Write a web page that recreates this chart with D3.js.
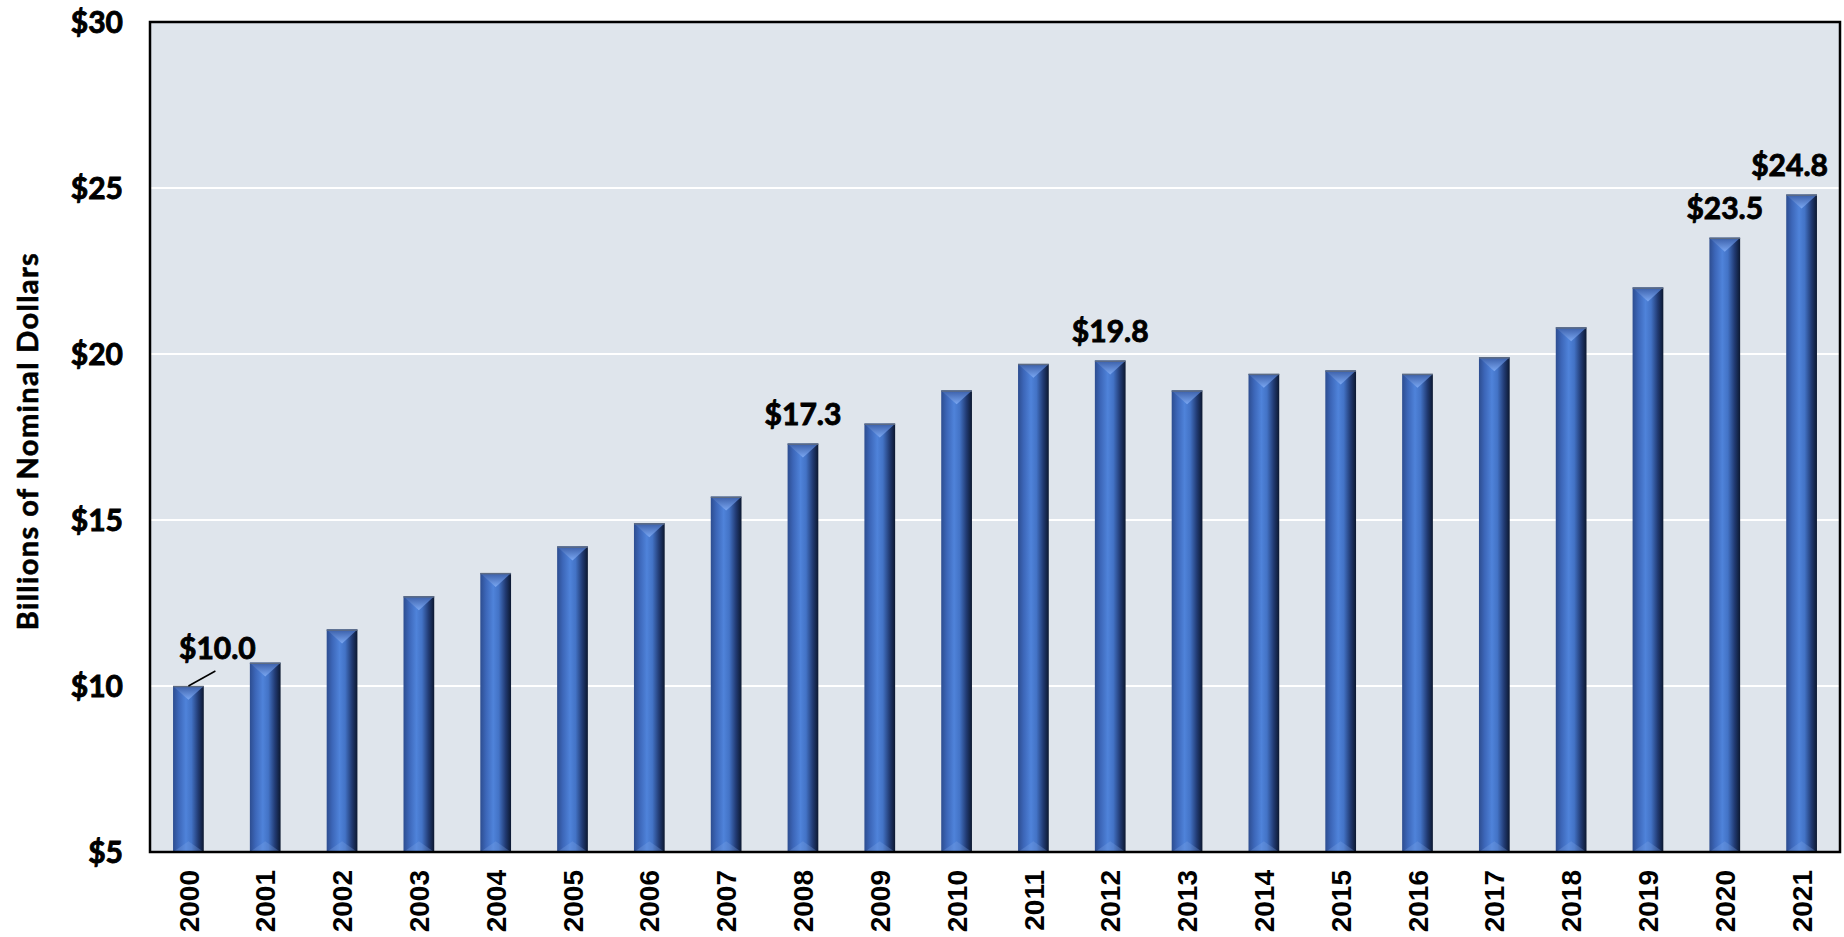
<!DOCTYPE html>
<meta charset="utf-8">
<style>
  body { margin: 0; background: #fff; }
  .ytick text { font-family: Lato, "Noto Sans", sans-serif; font-weight: 700; font-size: 30px; fill: #000; stroke: #000; stroke-width: 0.9px; }
  .xtick text { font-family: "Liberation Sans", Arial, sans-serif; font-weight: 700; font-size: 28px; fill: #000; }
  .lbl { font-family: Lato, "Noto Sans", sans-serif; font-weight: 700; font-size: 30px; fill: #000; stroke: #000; stroke-width: 0.9px; }
  .ytitle { font-family: Lato, "Noto Sans", sans-serif; font-weight: 700; font-size: 29px; letter-spacing: 1.4px; fill: #000; stroke: #000; stroke-width: 0.6px; }
</style>
<body>
  <div id="chart"></div>
  <script src="https://d3js.org/d3.v7.min.js"></script>
  <script>
    // data
    var years = ["2000", "2001", "2002", "2003", "2004", "2005", "2006", "2007", "2008", "2009", "2010",
      "2011", "2012", "2013", "2014", "2015", "2016", "2017", "2018", "2019", "2020", "2021"];
    var spending = [10.0, 10.7, 11.7, 12.7, 13.4, 14.2, 14.9, 15.7, 17.3, 17.9, 18.9,
      19.7, 19.8, 18.9, 19.4, 19.5, 19.4, 19.9, 20.8, 22.0, 23.5, 24.8];
    var yTicks = [5, 10, 15, 20, 25, 30];
    var labelledYears = ["2000", "2008", "2012", "2020", "2021"];

    var data = years.map(function (y, i) { return { year: y, value: spending[i] }; });

    // set the dimensions
    var W = 1844, H = 937;
    var margin = { top: 22, right: 4, bottom: 85, left: 150 };
    var width = W - margin.left - margin.right;
    var height = H - margin.top - margin.bottom;

    var svg = d3.select("#chart").append("svg")
      .attr("width", W)
      .attr("height", H);

    var defs = svg.append("defs");

    // horizontal shading of the bar body
    var body = defs.append("linearGradient").attr("id", "barBody")
      .attr("x1", "0%").attr("x2", "100%").attr("y1", "0%").attr("y2", "0%");
    [["0%", "#2d4d90"], ["18%", "#3c66b8"], ["42%", "#4f83da"], ["60%", "#4373c6"], ["82%", "#213a72"], ["100%", "#0c1830"]]
      .forEach(function (s) { body.append("stop").attr("offset", s[0]).attr("stop-color", s[1]); });

    // top bevel
    var bevel = defs.append("linearGradient").attr("id", "barTop")
      .attr("x1", "0%").attr("x2", "0%").attr("y1", "0%").attr("y2", "100%");
    [["0%", "#3a5ea8"], ["100%", "#7aa7f2"]]
      .forEach(function (s) { bevel.append("stop").attr("offset", s[0]).attr("stop-color", s[1]); });

    var g = svg.append("g")
      .attr("transform", "translate(" + margin.left + "," + margin.top + ")");

    var x = d3.scaleBand()
      .domain(years)
      .range([0, width])
      .paddingInner(0.6)
      .paddingOuter(0.3);

    var y = d3.scaleLinear()
      .domain([5, 30])
      .range([height, 0]);

    // plot background
    g.append("rect")
      .attr("width", width)
      .attr("height", height)
      .attr("fill", "#dfe5ec");

    // gridlines
    g.selectAll(".grid")
      .data(yTicks.filter(function (d) { return d > 5 && d < 30; }))
      .enter().append("line")
      .attr("x1", 0).attr("x2", width)
      .attr("y1", function (d) { return y(d); })
      .attr("y2", function (d) { return y(d); })
      .attr("stroke", "#fff")
      .attr("stroke-width", 2);

    // bars
    var bw = x.bandwidth();
    var bars = g.selectAll(".bar").data(data).enter().append("g").attr("class", "bar");

    bars.append("rect")
      .attr("x", function (d) { return x(d.year); })
      .attr("y", function (d) { return y(d.value); })
      .attr("width", bw)
      .attr("height", function (d) { return height - y(d.value); })
      .attr("fill", "url(#barBody)");

    // top bevel triangle
    bars.append("path")
      .attr("d", function (d) {
        var x0 = x(d.year), t = y(d.value);
        return "M" + x0 + "," + t + "L" + (x0 + bw) + "," + t + "L" + (x0 + bw / 2) + "," + (t + bw * 0.45) + "Z";
      })
      .attr("fill", "url(#barTop)");

    // bottom bevel
    bars.append("path")
      .attr("d", function (d) {
        var x0 = x(d.year), b = height;
        return "M" + x0 + "," + b + "L" + (x0 + bw) + "," + b + "L" + (x0 + bw / 2) + "," + (b - bw * 0.35) + "Z";
      })
      .attr("fill", "#7fa6e8")
      .attr("opacity", 0.3);

    // thin top edge
    bars.append("line")
      .attr("x1", function (d) { return x(d.year); })
      .attr("x2", function (d) { return x(d.year) + bw; })
      .attr("y1", function (d) { return y(d.value) + 0.5; })
      .attr("y2", function (d) { return y(d.value) + 0.5; })
      .attr("stroke", "#5d6b82")
      .attr("stroke-width", 1.5);

    // frame
    g.append("rect")
      .attr("width", width)
      .attr("height", height)
      .attr("fill", "none")
      .attr("stroke", "#000")
      .attr("stroke-width", 2.5);

    // Y axis
    g.append("g")
      .attr("class", "ytick")
      .call(d3.axisLeft(y).tickValues(yTicks).tickSize(0).tickPadding(27)
        .tickFormat(function (d) { return "$" + d; }))
      .call(function (a) { a.select(".domain").remove(); })
      .selectAll("text").attr("dy", "0.36em");

    // X axis
    g.append("g")
      .attr("class", "xtick")
      .attr("transform", "translate(0," + height + ")")
      .call(d3.axisBottom(x).tickSize(0))
      .call(function (a) { a.select(".domain").remove(); })
      .selectAll("text")
      .attr("transform", "rotate(-90)")
      .attr("x", -18)
      .attr("y", 0)
      .attr("dy", "0.36em")
      .attr("text-anchor", "end");

    // Y title
    svg.append("text")
      .attr("class", "ytitle")
      .attr("transform", "translate(" + 38 + "," + (margin.top + height / 2 + 4) + ") rotate(-90)")
      .attr("text-anchor", "middle")
      .text("Billions of Nominal Dollars");

    // value labels
    var labelled = data.filter(function (d) { return labelledYears.indexOf(d.year) >= 0; });
    var first = labelled[0];

    g.selectAll(".lbl").data(labelled).enter().append("text")
      .attr("class", "lbl")
      .attr("text-anchor", "middle")
      .attr("x", function (d) {
        var cx = x(d.year) + bw / 2;
        if (d === first) return cx + 29;
        if (d.year === "2021") return cx - 12;
        return cx;
      })
      .attr("y", function (d) {
        if (d === first) return y(d.value) - 27;
        return y(d.value) - 19;
      })
      .text(function (d) { return "$" + d.value.toFixed(1); });

    // leader line for the first label
    g.append("line")
      .attr("x1", x(first.year) + bw / 2)
      .attr("y1", y(first.value))
      .attr("x2", x(first.year) + bw / 2 + 27)
      .attr("y2", y(first.value) - 15)
      .attr("stroke", "#000")
      .attr("stroke-width", 1.5);
  </script>
</body>
